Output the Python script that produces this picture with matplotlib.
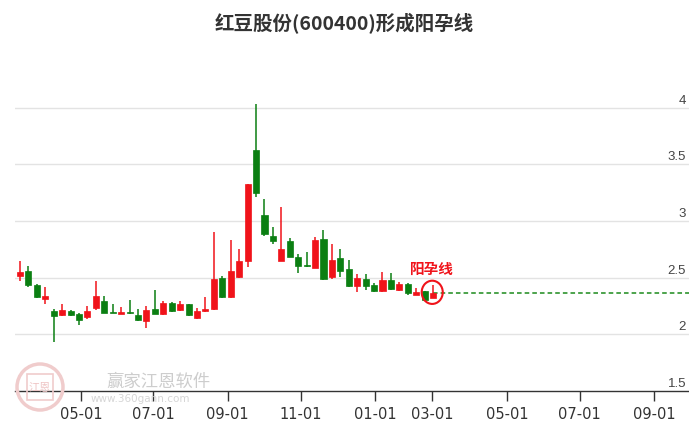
import numpy as np
import matplotlib
matplotlib.use("Agg")
import matplotlib.pyplot as plt
from matplotlib import font_manager
from matplotlib.patches import Ellipse, Circle, Rectangle
import matplotlib.transforms as mtransforms

# weekly candles
opens = [2.515, 2.561, 2.432, 2.312, 2.206, 2.167, 2.208, 2.179, 2.153, 2.235,
         2.294, 2.190, 2.180, 2.197, 2.173, 2.114, 2.223, 2.179, 2.273, 2.211,
         2.264, 2.147, 2.203, 2.220, 2.500, 2.329, 2.506, 2.644, 3.629, 3.056,
         2.870, 2.647, 2.826, 2.682, 2.605, 2.588, 2.844, 2.506, 2.676, 2.576,
         2.423, 2.491, 2.432, 2.382, 2.482, 2.388, 2.440, 2.350, 2.379, 2.323]
highs = [2.643, 2.603, 2.440, 2.417, 2.220, 2.264, 2.217, 2.185, 2.250, 2.470,
         2.341, 2.270, 2.241, 2.300, 2.226, 2.250, 2.394, 2.294, 2.282, 2.290,
         2.270, 2.232, 2.329, 2.903, 2.515, 2.829, 2.756, 3.329, 4.035, 3.197,
         2.947, 3.124, 2.850, 2.711, 2.726, 2.859, 2.917, 2.794, 2.753, 2.653,
         2.530, 2.529, 2.450, 2.550, 2.541, 2.462, 2.450, 2.411, 2.380, 2.432]
lows = [2.470, 2.420, 2.320, 2.270, 1.932, 2.160, 2.164, 2.079, 2.135, 2.211,
        2.185, 2.185, 2.178, 2.184, 2.120, 2.058, 2.180, 2.175, 2.193, 2.205,
        2.165, 2.138, 2.200, 2.211, 2.320, 2.320, 2.497, 2.594, 3.212, 2.868,
        2.797, 2.645, 2.680, 2.544, 2.598, 2.585, 2.480, 2.485, 2.506, 2.420,
        2.370, 2.388, 2.377, 2.378, 2.390, 2.385, 2.343, 2.348, 2.300, 2.320]
closes = [2.550, 2.432, 2.329, 2.335, 2.162, 2.214, 2.170, 2.123, 2.208, 2.341,
          2.188, 2.187, 2.195, 2.186, 2.126, 2.217, 2.182, 2.276, 2.208, 2.264,
          2.167, 2.203, 2.220, 2.491, 2.329, 2.559, 2.644, 3.329, 3.250, 2.882,
          2.820, 2.756, 2.682, 2.603, 2.600, 2.835, 2.485, 2.659, 2.556, 2.423,
          2.497, 2.423, 2.380, 2.482, 2.396, 2.447, 2.367, 2.373, 2.300, 2.367]

# x tick labels and their slot positions (in candle units)
tick_labels = ["05-01", "07-01", "09-01", "11-01", "01-01", "03-01", "05-01", "07-01", "09-01"]
tick_slots = [7.25, 15.8, 24.65, 33.35, 42.1, 48.9, 57.8, 66.4, 75.2]
y_ticks = [1.5, 2, 2.5, 3, 3.5, 4]

title = "红豆股份(600400)形成阳孕线"
pattern_name = "阳孕线"

names = {f.name for f in font_manager.fontManager.ttflist}
cjk = ["Noto Sans CJK SC", "DejaVu Sans"]
narrow = "Liberation Sans Narrow" if "Liberation Sans Narrow" in names else "DejaVu Sans"
plt.rcParams["font.family"] = cjk

RED = "#f0131a"
GREEN = "#0b7f12"

W, H = 689, 427
fig = plt.figure(figsize=(W / 100, H / 100), dpi=100)
fig.patch.set_facecolor("white")

# watermark first, behind everything
fig.patches.append(Circle((40, H - 388), 23, transform=None, fill=False,
                          edgecolor="#f0cccc", linewidth=2.5, zorder=0))
fig.patches.append(Rectangle((27, H - 401), 26, 26, transform=None, fill=False,
                             edgecolor="#f0cccc", linewidth=1.2, zorder=0))
fig.text(40 / W, 1 - 388 / H, "江恩", ha="center", va="center", fontsize=8,
         color="#efc4c4", zorder=0)
fig.text(158 / W, 1 - 382 / H, "赢家江恩软件", ha="center", va="center",
         fontsize=12.5, color="#cdcdcd", zorder=0)
fig.text(140 / W, 1 - 399 / H, "www.360gann.com", ha="center", va="center",
         fontsize=7.5, color="#d6d6d6", zorder=0, family="DejaVu Sans")

# axes: left 15px, bottom at y=392px, top at y=70px
ax = fig.add_axes([15 / W, (H - 392) / H, 674 / W, 322 / H])
ax.set_facecolor("none")
px_per_slot = 8.43
ax.set_xlim(-5 / px_per_slot, 669 / px_per_slot)
ax.set_ylim(1.5, 1.5 + 322 / 113.3)

o = np.array(opens)
c = np.array(closes)
hi = np.array(highs)
lo = np.array(lows)
x = np.arange(len(o))
up = c > o
cols = np.where(up, RED, GREEN)

ax.vlines(x, lo, hi, colors=cols, linewidth=1.1, zorder=3)
bottoms = np.minimum(o, c)
heights = np.maximum(np.abs(c - o), 0.014)
ax.bar(x, heights, bottom=bottoms, width=0.72, color=cols, edgecolor=cols,
       linewidth=0.5, zorder=4)

# grid lines
for yv in y_ticks[1:]:
    ax.axhline(yv, color="#e3e3e3", linewidth=1, zorder=1)

# y labels on the right, above grid lines
lab_tr = mtransforms.blended_transform_factory(ax.transAxes, ax.transData)
off = mtransforms.ScaledTranslation(-3 / 100, 2 / 100, fig.dpi_scale_trans)
for yv in y_ticks:
    ax.text(1.0, yv, f"{yv:g}", transform=lab_tr + off, ha="right", va="bottom",
            fontsize=9.5, color="#444444", family="Liberation Sans")

# dashed line from last close
last = len(c) - 1
ax.hlines(c[last], last, 669 / px_per_slot, colors="#1b8a1b", linestyles=(0, (3, 2)),
          linewidth=1.1, zorder=2)
ax.add_patch(Ellipse((last - 0.1, c[last] + 0.004), 2.5, 0.205, fill=False,
                     edgecolor=RED, linewidth=1.5, zorder=5))
ax.text(last - 0.1, c[last] + 0.215, pattern_name, ha="center", va="center",
        fontsize=10.5, fontweight="bold", color=RED, zorder=6)

# axes styling
for s in ["top", "right", "left"]:
    ax.spines[s].set_visible(False)
ax.spines["bottom"].set_color("#333333")
ax.spines["bottom"].set_linewidth(1)
ax.set_yticks([])
ax.set_xticks(tick_slots)
ax.set_xticklabels(tick_labels, fontsize=10.5, color="#333333", family=narrow)
ax.tick_params(axis="x", direction="out", length=7, width=1, color="#333333", pad=4)

fig.text(344 / W, 1 - 24 / H, title, ha="center", va="center", fontsize=14,
         fontweight="bold", color="#333333")

fig.savefig("out.png", dpi=100)
